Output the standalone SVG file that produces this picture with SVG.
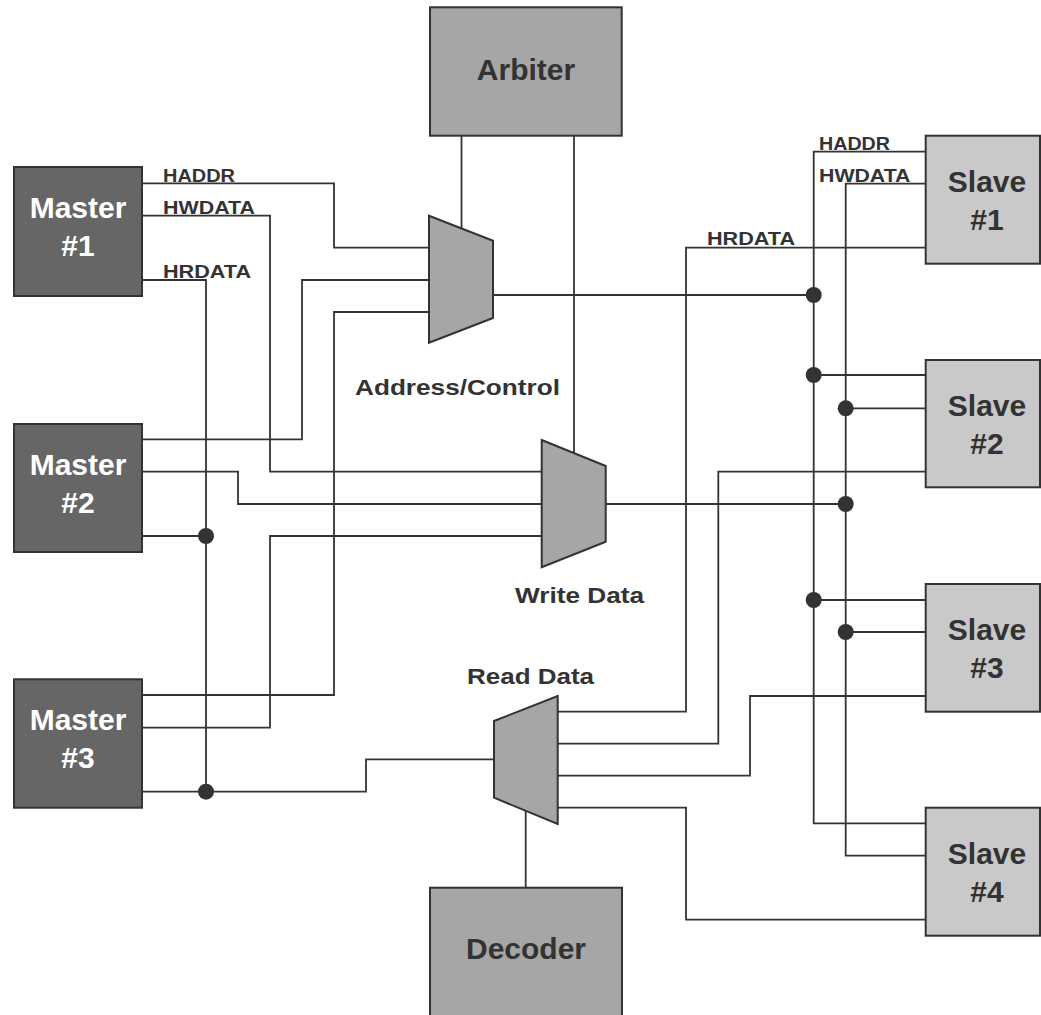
<svg xmlns="http://www.w3.org/2000/svg" width="1041" height="1015" viewBox="0 0 1041 1015">
  <style>
    .wire { fill: none; stroke: #333333; stroke-width: 1.8; }
    .dot { fill: #333333; }
    .box { stroke: #333333; stroke-width: 2; }
    .master { fill: #666666; }
    .ctrl { fill: #a6a6a6; }
    .slave { fill: #c9c9c9; }
    .big { font-family: "Liberation Sans", Arial, sans-serif; font-weight: bold; font-size: 30px; text-anchor: middle; }
    .sig { font-family: "Liberation Sans", Arial, sans-serif; font-weight: bold; font-size: 19px; fill: #333333; }
    .cap { font-family: "Liberation Sans", Arial, sans-serif; font-weight: bold; font-size: 22px; fill: #333333; }
  </style>
  <rect width="1041" height="1015" fill="#ffffff"/>

  <!-- bus wiring -->
  <g id="connectors">
    <!-- Master #1 -->
    <polyline class="wire" points="142,183.3 334,183.3 334,247.7 429,247.7"/>
    <polyline class="wire" points="142,215.7 270,215.7 270,471.7 541.7,471.7"/>
    <polyline class="wire" points="142,280 206,280 206,791.7"/>
    <!-- Master #2 -->
    <polyline class="wire" points="142,439.3 302,439.3 302,280 429,280"/>
    <polyline class="wire" points="142,471.7 238,471.7 238,504 541.7,504"/>
    <polyline class="wire" points="142,536 206,536"/>
    <!-- Master #3 -->
    <polyline class="wire" points="142,695 334,695 334,312 429,312"/>
    <polyline class="wire" points="142,727.7 270,727.7 270,536 541.7,536"/>
    <polyline class="wire" points="142,791.7 366,791.7 366,759.3 494,759.3"/>
    <!-- arbiter selects -->
    <line class="wire" x1="461.5" y1="135.7" x2="461.5" y2="229"/>
    <line class="wire" x1="574" y1="135.7" x2="574" y2="453"/>
    <!-- decoder select -->
    <line class="wire" x1="525.7" y1="811" x2="525.7" y2="887.7"/>
    <!-- mux outputs to slave buses -->
    <polyline class="wire" points="493,295 813.7,295"/>
    <polyline class="wire" points="605.7,504 845.7,504"/>
    <!-- HADDR bus -->
    <polyline class="wire" points="925.7,151.7 813.7,151.7 813.7,823.3 925.7,823.3"/>
    <line class="wire" x1="813.7" y1="375" x2="925.7" y2="375"/>
    <line class="wire" x1="813.7" y1="600" x2="925.7" y2="600"/>
    <!-- HWDATA bus -->
    <polyline class="wire" points="925.7,183.7 845.7,183.7 845.7,855.7 925.7,855.7"/>
    <line class="wire" x1="845.7" y1="408.3" x2="925.7" y2="408.3"/>
    <line class="wire" x1="845.7" y1="632" x2="925.7" y2="632"/>
    <!-- HRDATA from slaves -->
    <polyline class="wire" points="925.7,247.7 686,247.7 686,711.7 557.7,711.7"/>
    <polyline class="wire" points="925.7,471.7 718.3,471.7 718.3,743.7 557.7,743.7"/>
    <polyline class="wire" points="925.7,696 750,696 750,775.7 557.7,775.7"/>
    <polyline class="wire" points="925.7,919.7 686,919.7 686,807.7 557.7,807.7"/>
    <!-- junctions -->
    <circle class="dot" cx="206" cy="536" r="8"/>
    <circle class="dot" cx="206" cy="791.7" r="8"/>
    <circle class="dot" cx="813.7" cy="295" r="8"/>
    <circle class="dot" cx="813.7" cy="375" r="8"/>
    <circle class="dot" cx="813.7" cy="600" r="8"/>
    <circle class="dot" cx="845.7" cy="408.3" r="8"/>
    <circle class="dot" cx="845.7" cy="504" r="8"/>
    <circle class="dot" cx="845.7" cy="632" r="8"/>
  </g>

  <!-- signal names -->
  <g id="signal-labels">
    <text class="sig" x="163" y="181.5" textLength="72" lengthAdjust="spacingAndGlyphs">HADDR</text>
    <text class="sig" x="163" y="213.5" textLength="92" lengthAdjust="spacingAndGlyphs">HWDATA</text>
    <text class="sig" x="163" y="277.5" textLength="88" lengthAdjust="spacingAndGlyphs">HRDATA</text>
    <text class="sig" x="819" y="149.5" textLength="71" lengthAdjust="spacingAndGlyphs">HADDR</text>
    <text class="sig" x="819" y="181.7" textLength="91.5" lengthAdjust="spacingAndGlyphs">HWDATA</text>
    <text class="sig" x="707" y="245" textLength="88" lengthAdjust="spacingAndGlyphs">HRDATA</text>
  </g>

  <g id="arbiter">
    <rect class="box ctrl" x="430" y="7.3" width="191.7" height="128.4"/>
    <text class="big" x="526" y="79.5" fill="#333333">Arbiter</text>
  </g>

  <g id="mux-address">
    <polygon class="box ctrl" points="429,215.7 493,240.7 493,318 429,342.7"/>
    <text class="cap" x="355" y="395" textLength="205" lengthAdjust="spacingAndGlyphs">Address/Control</text>
  </g>

  <g id="mux-write">
    <polygon class="box ctrl" points="541.7,440 605.7,466 605.7,541.7 541.7,567.3"/>
    <text class="cap" x="515" y="602.5" textLength="129" lengthAdjust="spacingAndGlyphs">Write Data</text>
  </g>

  <g id="mux-read">
    <polygon class="box ctrl" points="494,721 557.7,696 557.7,824 494,797.7"/>
    <text class="cap" x="467" y="683.5" textLength="127" lengthAdjust="spacingAndGlyphs">Read Data</text>
  </g>

  <g id="decoder">
    <rect class="box ctrl" x="430" y="887.7" width="192" height="140"/>
    <text class="big" x="526" y="959" fill="#333333">Decoder</text>
  </g>

  <g id="master1">
    <rect class="box master" x="14" y="167" width="128" height="129"/>
    <text class="big" x="78" y="218" fill="#ffffff">Master</text>
    <text class="big" x="78" y="256" fill="#ffffff">#1</text>
  </g>
  <g id="master2">
    <rect class="box master" x="14" y="424" width="128" height="128"/>
    <text class="big" x="78" y="475" fill="#ffffff">Master</text>
    <text class="big" x="78" y="512.5" fill="#ffffff">#2</text>
  </g>
  <g id="master3">
    <rect class="box master" x="14" y="679.3" width="128" height="128.4"/>
    <text class="big" x="78" y="730.3" fill="#ffffff">Master</text>
    <text class="big" x="78" y="767.8" fill="#ffffff">#3</text>
  </g>

  <g id="slave1">
    <rect class="box slave" x="925.7" y="135.7" width="114.3" height="128"/>
    <text class="big" x="987" y="191.5" fill="#333333">Slave</text>
    <text class="big" x="987" y="229.5" fill="#333333">#1</text>
  </g>
  <g id="slave2">
    <rect class="box slave" x="925.7" y="360" width="114.3" height="127.3"/>
    <text class="big" x="987" y="415.5" fill="#333333">Slave</text>
    <text class="big" x="987" y="453.5" fill="#333333">#2</text>
  </g>
  <g id="slave3">
    <rect class="box slave" x="925.7" y="584" width="114.3" height="127.7"/>
    <text class="big" x="987" y="639.5" fill="#333333">Slave</text>
    <text class="big" x="987" y="677.5" fill="#333333">#3</text>
  </g>
  <g id="slave4">
    <rect class="box slave" x="925.7" y="807.7" width="114.3" height="128"/>
    <text class="big" x="987" y="863.5" fill="#333333">Slave</text>
    <text class="big" x="987" y="901.5" fill="#333333">#4</text>
  </g>
</svg>
